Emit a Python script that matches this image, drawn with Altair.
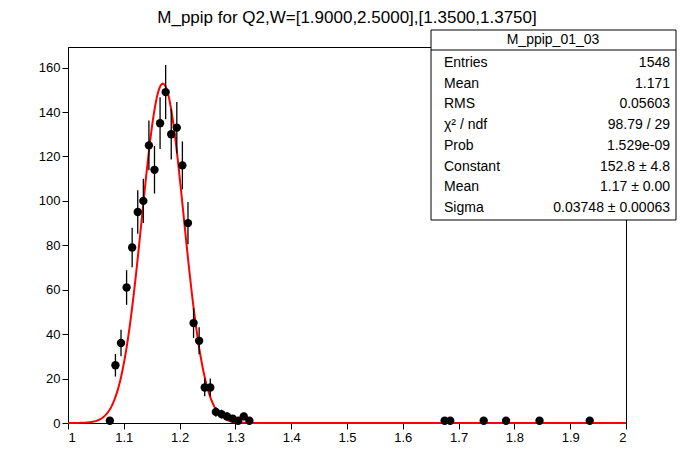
import altair as alt
import numpy as np
import pandas as pd

centers = [1.075,1.085,1.095,1.105,1.115,1.125,1.135,1.145,1.155,1.165,1.175,1.185,1.195,1.205,1.215,1.225,1.235,1.245,1.255,1.265,1.275,1.285,1.295,1.305,1.315,1.325,1.675,1.685,1.745,1.785,1.845,1.935]
counts = [1,26,36,61,79,95,100,125,114,135,149,130,133,116,90,45,37,16,16,5,4,3,2,1,3,1,1,1,1,1,1,1]

fit_const, fit_mean, fit_sigma = 152.8, 1.17, 0.03748

stat_labels = ["Entries", "Mean", "RMS", "χ² / ndf", "Prob", "Constant", "Mean", "Sigma"]
stat_values = ["1548", "1.171", "0.05603", "98.79 / 29", "1.529e-09", "152.8 ± 4.8", "1.17 ± 0.00", "0.03748 ± 0.00063"]

FONT = "Liberation Sans"
df = pd.DataFrame({"x": centers, "n": counts})
df["lo"] = df["n"] - np.sqrt(df["n"])
df["hi"] = df["n"] + np.sqrt(df["n"])

xs = np.linspace(1.0, 2.0, 801)
fit = pd.DataFrame({"x": xs, "y": fit_const * np.exp(-0.5 * ((xs - fit_mean) / fit_sigma) ** 2)})

xsc = alt.Scale(domain=[1, 2], nice=False)
ysc = alt.Scale(domain=[0, 169.3], nice=False)
xax = alt.Axis(values=[1 + 0.1 * i for i in range(11)], format="~g", grid=False, labelFont=FONT,
               labelFontSize=13, tickColor="black", domainColor="black", labelColor="black", title=None, tickSize=6)
yax = alt.Axis(values=list(range(0, 161, 20)), grid=False, labelFont=FONT, labelFontSize=13,
               tickColor="black", domainColor="black", labelColor="black", title=None, tickSize=6)

err = alt.Chart(df).mark_rule(color="black", strokeWidth=1.3).encode(
    x=alt.X("x:Q", scale=xsc, axis=xax), y=alt.Y("lo:Q", scale=ysc, axis=yax), y2="hi:Q")
pts = alt.Chart(df).mark_circle(color="black", opacity=1, size=70).encode(
    x=alt.X("x:Q", scale=xsc), y=alt.Y("n:Q", scale=ysc))
line = alt.Chart(fit).mark_line(color="#ff0000", strokeWidth=2).encode(
    x=alt.X("x:Q", scale=xsc), y=alt.Y("y:Q", scale=ysc))

box = alt.Chart(pd.DataFrame({"a": [0]})).mark_rect(fill="white", stroke="black", strokeWidth=1).encode(
    x=alt.value(363), x2=alt.value(608), y=alt.value(-17), y2=alt.value(173))
hline = alt.Chart(pd.DataFrame({"a": [0]})).mark_rule(color="black").encode(
    x=alt.value(363), x2=alt.value(608), y=alt.value(3))
header = alt.Chart(pd.DataFrame({"t": ["M_ppip_01_03"]})).mark_text(
    font=FONT, fontSize=14, color="black", align="center", baseline="middle").encode(
    text="t:N", x=alt.value(485), y=alt.value(-7))
sdf = pd.DataFrame({"lab": stat_labels, "val": stat_values,
                    "py": [16 + 20.7 * i for i in range(len(stat_labels))]})
labs = alt.Chart(sdf).mark_text(font=FONT, fontSize=14, color="black", align="left", baseline="middle").encode(
    text="lab:N", x=alt.value(376), y=alt.Y("py:Q", scale=None))
vals = alt.Chart(sdf).mark_text(font=FONT, fontSize=14, color="black", align="right", baseline="middle").encode(
    text="val:N", x=alt.value(602), y=alt.Y("py:Q", scale=None))

chart = alt.layer(line, err, pts, box, hline, header, labs, vals).properties(
    width=558, height=376,
    autosize=alt.AutoSizeParams(type="none"),
    padding={"left": 60, "top": 39, "right": 62, "bottom": 40},
    title=alt.TitleParams("M_ppip for Q2,W=[1.9000,2.5000],[1.3500,1.3750]", font=FONT, fontSize=17,
                          fontWeight="normal", color="black", anchor="middle", offset=3),
    background="white",
).configure_view(stroke="black", strokeWidth=1)

chart.save("out.html", embed_options={"renderer": "svg", "actions": False})
